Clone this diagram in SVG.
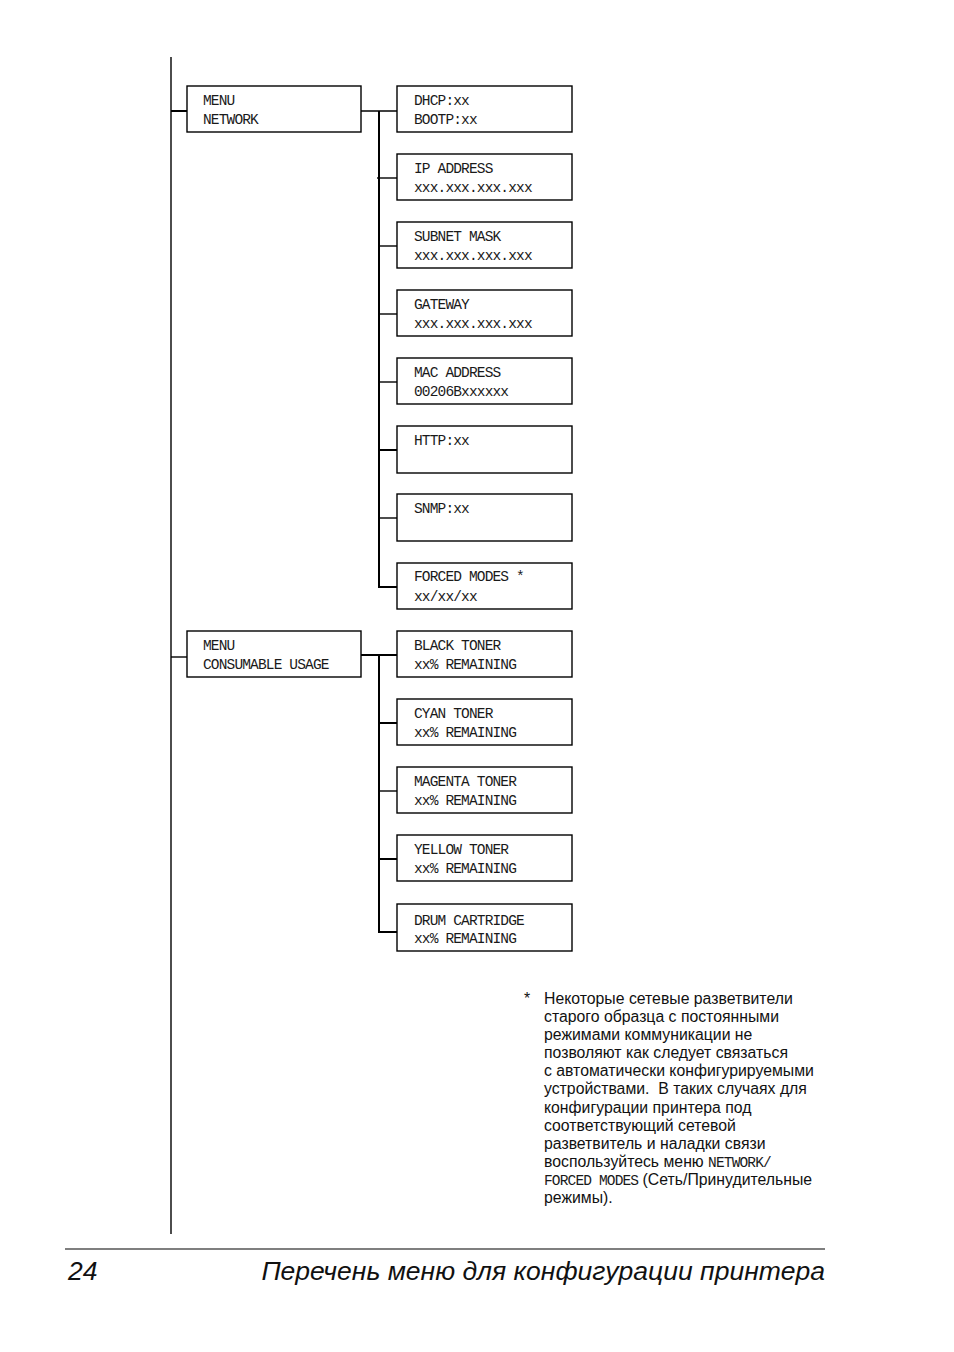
<svg xmlns="http://www.w3.org/2000/svg" width="954" height="1352" viewBox="0 0 954 1352">
<style>
.box{fill:#fff;stroke:#000;stroke-width:1.4}
.m{font-family:"Liberation Mono","DejaVu Sans Mono",monospace;font-size:14.5px;letter-spacing:-0.85px;fill:#1a1a1a}
.ln{stroke:#000;fill:none;stroke-width:1.4}
.vb{stroke:#000;fill:none;stroke-width:2}
.fn{font-family:"Liberation Sans",Arial,sans-serif;font-size:15.8px;fill:#111}
.ft{font-family:"Liberation Sans",Arial,sans-serif;font-size:26.5px;font-style:italic;fill:#111}
</style>
<rect width="954" height="1352" fill="#fff"/>
<g id="connectors">
<line class="ln" x1="171" y1="57" x2="171" y2="1234"/>
<line class="vb" x1="171" y1="111" x2="187" y2="111"/>
<line class="ln" x1="171" y1="657" x2="187" y2="657"/>
<line class="ln" x1="361" y1="111" x2="397" y2="111"/>
<line class="vb" x1="379" y1="111" x2="379" y2="588"/>
<line class="ln" x1="377" y1="178" x2="397" y2="178"/>
<line class="ln" x1="379" y1="246" x2="397" y2="246"/>
<line class="ln" x1="379" y1="314" x2="397" y2="314"/>
<line class="ln" x1="379" y1="382" x2="397" y2="382"/>
<line class="vb" x1="379" y1="450" x2="397" y2="450"/>
<line class="ln" x1="379" y1="518" x2="397" y2="518"/>
<line class="vb" x1="378" y1="587" x2="397" y2="587"/>
<line class="vb" x1="361" y1="655" x2="397" y2="655"/>
<line class="vb" x1="379" y1="655" x2="379" y2="933"/>
<line class="vb" x1="379" y1="723" x2="397" y2="723"/>
<line class="ln" x1="379" y1="791" x2="397" y2="791"/>
<line class="vb" x1="379" y1="859" x2="397" y2="859"/>
<line class="vb" x1="378" y1="932" x2="397" y2="932"/>
</g>
<g id="menu-network"><rect class="box" x="187" y="86" width="174" height="46"/><text class="m" x="203" y="105">MENU</text><text class="m" x="203" y="124">NETWORK</text></g>
<g id="dhcp"><rect class="box" x="397" y="86" width="175" height="46"/><text class="m" x="414" y="105">DHCP:xx</text><text class="m" x="414" y="124">BOOTP:xx</text></g>
<g id="ip"><rect class="box" x="397" y="154" width="175" height="46"/><text class="m" x="414" y="173">IP ADDRESS</text><text class="m" x="414" y="192">xxx.xxx.xxx.xxx</text></g>
<g id="subnet"><rect class="box" x="397" y="222" width="175" height="46"/><text class="m" x="414" y="241">SUBNET MASK</text><text class="m" x="414" y="260">xxx.xxx.xxx.xxx</text></g>
<g id="gateway"><rect class="box" x="397" y="290" width="175" height="46"/><text class="m" x="414" y="309">GATEWAY</text><text class="m" x="414" y="328">xxx.xxx.xxx.xxx</text></g>
<g id="mac"><rect class="box" x="397" y="358" width="175" height="46"/><text class="m" x="414" y="377">MAC ADDRESS</text><text class="m" x="414" y="396">00206Bxxxxxx</text></g>
<g id="http"><rect class="box" x="397" y="426" width="175" height="47"/><text class="m" x="414" y="445">HTTP:xx</text></g>
<g id="snmp"><rect class="box" x="397" y="494" width="175" height="47"/><text class="m" x="414" y="513">SNMP:xx</text></g>
<g id="forced"><rect class="box" x="397" y="563" width="175" height="46"/><text class="m" x="414" y="581">FORCED MODES *</text><text class="m" x="414" y="601">xx/xx/xx</text></g>
<g id="menu-consumable"><rect class="box" x="187" y="631" width="174" height="46"/><text class="m" x="203" y="650">MENU</text><text class="m" x="203" y="669">CONSUMABLE USAGE</text></g>
<g id="black"><rect class="box" x="397" y="631" width="175" height="46"/><text class="m" x="414" y="650">BLACK TONER</text><text class="m" x="414" y="669">xx% REMAINING</text></g>
<g id="cyan"><rect class="box" x="397" y="699" width="175" height="46"/><text class="m" x="414" y="718">CYAN TONER</text><text class="m" x="414" y="737">xx% REMAINING</text></g>
<g id="magenta"><rect class="box" x="397" y="767" width="175" height="46"/><text class="m" x="414" y="786">MAGENTA TONER</text><text class="m" x="414" y="805">xx% REMAINING</text></g>
<g id="yellow"><rect class="box" x="397" y="835" width="175" height="46"/><text class="m" x="414" y="854">YELLOW TONER</text><text class="m" x="414" y="873">xx% REMAINING</text></g>
<g id="drum"><rect class="box" x="397" y="904" width="175" height="47"/><text class="m" x="414" y="925">DRUM CARTRIDGE</text><text class="m" x="414" y="943">xx% REMAINING</text></g>
<g id="footnote">
<text class="fn" x="524" y="1004">*</text>
<text class="fn" x="544" y="1004">Некоторые сетевые разветвители</text>
<text class="fn" x="544" y="1022">старого образца с постоянными</text>
<text class="fn" x="544" y="1040">режимами коммуникации не</text>
<text class="fn" x="544" y="1058">позволяют как следует связаться</text>
<text class="fn" x="544" y="1076">с автоматически конфигурируемыми</text>
<text class="fn" x="544" y="1094">устройствами.&#160; В таких случаях для</text>
<text class="fn" x="544" y="1113">конфигурации принтера под</text>
<text class="fn" x="544" y="1131">соответствующий сетевой</text>
<text class="fn" x="544" y="1149">разветвитель и наладки связи</text>
<text class="fn" x="544" y="1167">воспользуйтесь меню <tspan class="m">NETWORK/</tspan></text>
<text class="fn" x="544" y="1185"><tspan class="m">FORCED MODES</tspan> (Сеть/Принудительные</text>
<text class="fn" x="544" y="1203">режимы).</text>
</g>
<line x1="65" y1="1249" x2="825" y2="1249" stroke="#000" stroke-width="1.2"/>
<text class="ft" x="68" y="1280">24</text>
<text class="ft" x="825" y="1280" text-anchor="end">Перечень меню для конфигурации принтера</text>
</svg>
